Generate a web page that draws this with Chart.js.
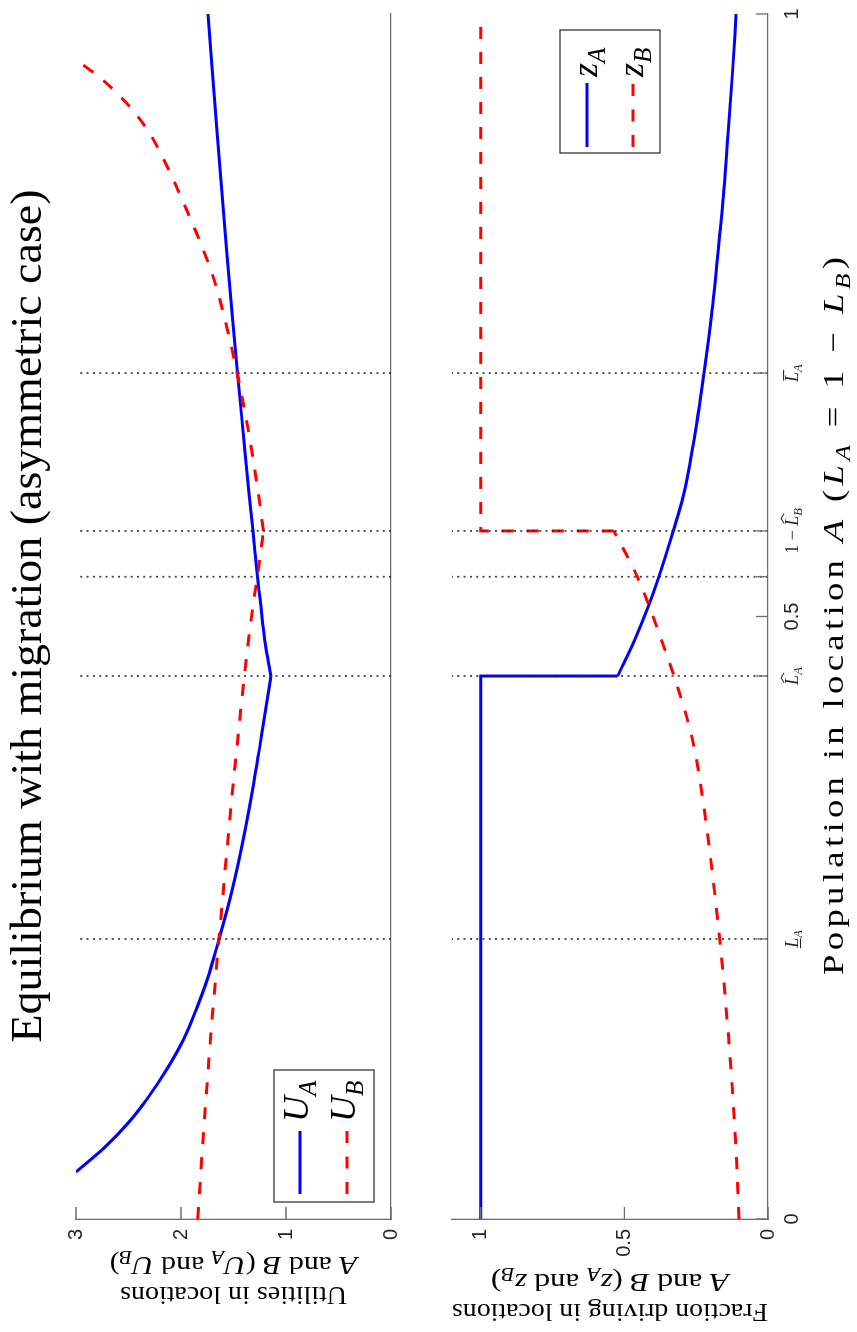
<!DOCTYPE html>
<html>
<head>
<meta charset="utf-8">
<title>Equilibrium with migration (asymmetric case)</title>
<script src="https://cdn.jsdelivr.net/npm/chart.js@4.4.1/dist/chart.umd.min.js"></script>
<style>
  html, body { margin: 0; padding: 0; background: #fff; }
  body { width: 857px; height: 1332px; overflow: hidden; position: relative; }
  /* the figure is laid out landscape and turned a quarter turn anticlockwise */
  #figure { position: absolute; left: 0; top: 0; width: 1332px; height: 857px;
            transform-origin: 0 0; transform: translateY(1332px) rotate(-90deg); }
  #figure canvas { position: absolute; left: 0; top: 0; }
</style>
</head>
<body>
<div id="figure">
  <canvas id="utilityChart" width="1332" height="857"></canvas>
  <canvas id="drivingChart" width="1332" height="857"></canvas>
</div>
<script>
// --- values -----------------------------------------------------------
// population in A where the dotted guides are drawn
const guidePop = [0.2324, 0.4506, 0.533, 0.571, 0.702];
const popTicks = [0, 0.2324, 0.4506, 0.5, 0.533, 0.571, 0.702, 1];
const popTickLabels = ['0', 'LlowA', 'LhatA', '0.5', '', 'oneMinusLhatB', 'LbarA', '1'];
const utilTicks = [0, 1, 2, 3];
const fracTicks = [0, 0.5, 1];

// utility in A, falling part and rising part
const uaFallPop = [0.039, 0.06, 0.08, 0.10, 0.125, 0.15, 0.175, 0.20, 0.2324, 0.265, 0.30, 0.35, 0.40, 0.4506];
const uaFallVal = [3.00, 2.72, 2.50, 2.32, 2.13, 1.97, 1.85, 1.745, 1.638, 1.535, 1.442, 1.33, 1.235, 1.143];
const uaRisePop = [0.4506, 0.48, 0.5137, 0.533, 0.571, 0.60, 0.65, 0.702, 0.75, 0.80, 0.90, 1.00];
const uaRiseVal = [1.143, 1.202, 1.246, 1.272, 1.315, 1.35, 1.405, 1.462, 1.512, 1.562, 1.655, 1.743];

// utility in B
const ubFallPop = [0, 0.06, 0.10, 0.15, 0.20, 0.2324, 0.265, 0.30, 0.35, 0.3975, 0.4506, 0.4837, 0.5137, 0.533, 0.55, 0.571];
const ubFallVal = [1.84, 1.795, 1.762, 1.718, 1.671, 1.638, 1.605, 1.569, 1.515, 1.46, 1.397, 1.352, 1.307, 1.272, 1.246, 1.215];
const ubRisePop = [0.571, 0.60, 0.65, 0.702, 0.744, 0.7685, 0.7876, 0.807, 0.825, 0.844, 0.8647, 0.8838, 0.9012, 0.9187, 0.9344, 0.9485, 0.962];
const ubRiseVal = [1.215, 1.26, 1.35, 1.465, 1.575, 1.648, 1.715, 1.80, 1.885, 1.98, 2.085, 2.19, 2.30, 2.445, 2.61, 2.79, 3.0];

// fraction driving in A
const zaFlatPop = [0, 0.4506, 0.4506];
const zaFlatVal = [1, 1, 0.523];
const zaFallPop = [0.4506, 0.48, 0.5095, 0.533, 0.571, 0.60, 0.65, 0.702, 0.75, 0.80, 0.85, 0.90, 0.95, 1.00];
const zaFallVal = [0.523, 0.465, 0.415, 0.38, 0.33, 0.295, 0.255, 0.223, 0.197, 0.175, 0.155, 0.139, 0.124, 0.111];

// fraction driving in B
const zbRisePop = [0, 0.05, 0.10, 0.15, 0.20, 0.2324, 0.265, 0.30, 0.35, 0.40, 0.4506, 0.48, 0.5095, 0.533, 0.55, 0.571];
const zbRiseVal = [0.101, 0.11, 0.122, 0.137, 0.155, 0.168, 0.183, 0.20, 0.228, 0.265, 0.327, 0.37, 0.415, 0.455, 0.49, 0.537];
const zbFlatPop = [0.571, 0.571, 1];
const zbFlatVal = [0.537, 1, 1];

// --- styling ------------------------------------------------------------
const BLUE = 'rgb(0, 0, 255)';
const RED = 'rgb(255, 0, 0)';
const AXIS_COLOR = '#6e6e6e';
const TICK_TEXT = '#262626';
const SANS = '"Liberation Sans", Arial, sans-serif';
const SERIF = '"Liberation Serif", "DejaVu Serif", serif';
const DASH = [12, 13];

// rich text bits (italic maths, subscripts, hats and bars)
const txt = (t, extra) => Object.assign({ t }, extra || {});
const it = (t, extra) => Object.assign({ t, it: true }, extra || {});
const sub = (t) => ({ t, it: true, sub: true });

const tickText = {
  LlowA: [it('L', { deco: 'under' }), sub('A')],
  LhatA: [it('L', { deco: 'hat' }), sub('A')],
  oneMinusLhatB: [txt('1 \u2212 '), it('L', { deco: 'hat' }), sub('B')],
  LbarA: [it('L', { deco: 'bar' }), sub('A')]
};

function segFont(seg, size) {
  const sz = seg.sub ? size * 0.7 : size;
  return (seg.it ? 'italic ' : '') + sz.toFixed(1) + 'px ' + SERIF;
}

function richWidth(ctx, segs, size) {
  let w = 0;
  segs.forEach(s => { ctx.font = segFont(s, size); w += ctx.measureText(s.t).width; });
  return w;
}

function drawDeco(ctx, kind, x, w, size) {
  const slant = size * 0.12;
  ctx.save();
  ctx.strokeStyle = ctx.fillStyle;
  ctx.lineWidth = Math.max(1, size * 0.06);
  ctx.beginPath();
  if (kind === 'hat') {
    const top = -size * 0.72;
    ctx.moveTo(x + slant, top - size * 0.05);
    ctx.lineTo(x + w / 2 + slant, top - size * 0.22);
    ctx.lineTo(x + w + slant, top - size * 0.05);
  } else if (kind === 'bar') {
    const y = -size * 0.8;
    ctx.moveTo(x + slant * 0.6, y);
    ctx.lineTo(x + w + slant, y);
  } else if (kind === 'under') {
    const y = size * 0.14;
    ctx.moveTo(x - slant * 0.2, y);
    ctx.lineTo(x + w - slant * 0.3, y);
  }
  ctx.stroke();
  ctx.restore();
}

// baseline at y; align 'center' or 'left'.
// spread widens by letter spacing, fit then stretches to the final width
function drawRich(ctx, segs, x, y, size, opts) {
  opts = opts || {};
  const w = richWidth(ctx, segs, size);
  let gap = 0;
  if (opts.spread && opts.spread > w) {
    const n = segs.reduce((k, s) => k + s.t.length, 0);
    gap = (opts.spread - w) / Math.max(1, n - 1);
  }
  const total = gap ? opts.spread : w;
  const sx = opts.fit ? opts.fit / total : 1;
  ctx.save();
  ctx.translate(x, y);
  ctx.scale(sx, 1);
  ctx.textAlign = 'left';
  ctx.textBaseline = 'alphabetic';
  let cx = opts.align === 'left' ? 0 : -total / 2;
  segs.forEach(s => {
    ctx.font = segFont(s, size);
    const dy = s.sub ? size * 0.22 : 0;
    if (gap) {
      const start = cx;
      for (const ch of s.t) {
        ctx.fillText(ch, cx, dy);
        cx += ctx.measureText(ch).width + gap;
      }
      if (s.deco) drawDeco(ctx, s.deco, start, cx - start - gap, size);
    } else {
      const sw = ctx.measureText(s.t).width;
      ctx.fillText(s.t, cx, dy);
      if (s.deco) drawDeco(ctx, s.deco, cx, sw, size);
      cx += sw;
    }
  });
  ctx.restore();
}

function drawVertical(ctx, segs, u, v, size, fit) {
  ctx.save();
  ctx.translate(u, v);
  ctx.rotate(-Math.PI / 2);
  drawRich(ctx, segs, 0, 0, size, { fit });
  ctx.restore();
}

function drawLegend(ctx, box, entries) {
  ctx.save();
  ctx.fillStyle = '#fff';
  ctx.fillRect(box.left, box.top, box.right - box.left, box.bottom - box.top);
  ctx.strokeStyle = '#262626';
  ctx.lineWidth = 1.2;
  ctx.strokeRect(box.left, box.top, box.right - box.left, box.bottom - box.top);
  entries.forEach(e => {
    ctx.beginPath();
    ctx.strokeStyle = e.color;
    ctx.lineWidth = 3;
    ctx.setLineDash(e.dash);
    ctx.moveTo(box.lineFrom, e.v);
    ctx.lineTo(box.lineTo, e.v);
    ctx.stroke();
    ctx.setLineDash([]);
    ctx.fillStyle = '#000';
    drawRich(ctx, e.label, box.textAt, e.v + e.shift, box.size, { align: 'left' });
  });
  ctx.restore();
}

// --- datasets -----------------------------------------------------------
function points(xs, ys) {
  return xs.map((x, i) => ({ x, y: ys[i] }));
}

function curve(xs, ys, color, dashed, smooth, order) {
  return {
    data: points(xs, ys),
    borderColor: color,
    borderWidth: 3,
    borderDash: dashed ? DASH : [],
    cubicInterpolationMode: smooth ? 'monotone' : 'default',
    tension: 0,
    pointRadius: 0,
    fill: false,
    order
  };
}

function guides(maxY) {
  return guidePop.map(p => ({
    data: [{ x: p, y: 0 }, { x: p, y: maxY }],
    borderColor: 'rgba(35, 35, 35, 0.85)',
    borderWidth: 1.8,
    borderDash: [2, 4.3],
    pointRadius: 0,
    fill: false,
    order: 0
  }));
}

// inward tick marks, as MATLAB draws them
function innerTicks(xTicks, yTicks) {
  return {
    id: 'innerTicks',
    afterDraw(chart) {
      const { ctx, chartArea: a, scales } = chart;
      ctx.save();
      ctx.strokeStyle = AXIS_COLOR;
      ctx.lineWidth = 1.3;
      ctx.beginPath();
      yTicks.forEach(t => {
        const v = scales.y.getPixelForValue(t);
        ctx.moveTo(a.left, v);
        ctx.lineTo(a.left + 12, v);
      });
      xTicks.forEach(t => {
        const u = scales.x.getPixelForValue(t);
        ctx.moveTo(u, a.bottom);
        ctx.lineTo(u, a.bottom - 12);
      });
      ctx.stroke();
      ctx.restore();
    }
  };
}

function baseOptions(yMax, yTicks, padTop, padBottom) {
  return {
    responsive: false,
    animation: false,
    devicePixelRatio: 1,
    events: [],
    layout: { padding: { left: 0, right: 14, top: padTop, bottom: padBottom } },
    plugins: { legend: { display: false }, tooltip: { enabled: false } },
    scales: {
      x: {
        type: 'linear',
        min: 0,
        max: 1,
        grid: { display: false, drawTicks: false },
        border: { display: true, color: AXIS_COLOR, width: 1.3 },
        ticks: { display: false },
        afterFit: s => { s.height = 0; }
      },
      y: {
        type: 'linear',
        min: 0,
        max: yMax,
        grid: { display: false, drawTicks: false },
        border: { display: true, color: AXIS_COLOR, width: 1.3 },
        afterBuildTicks: s => { s.ticks = yTicks.map(v => ({ value: v })); },
        ticks: {
          padding: 10,
          color: TICK_TEXT,
          font: { family: SANS, size: 20 },
          callback: v => String(v)
        },
        afterFit: s => { s.width = 113; }
      }
    }
  };
}

document.addEventListener('DOMContentLoaded', () => {
  drawUtilityPanel();
  drawDrivingPanel();
});

function drawUtilityPanel() {
  const canvas = document.getElementById('utilityChart');
  if (!canvas || typeof Chart === 'undefined') return;

  const labels = {
    id: 'utilityLabels',
    afterDraw(chart) {
      const ctx = chart.ctx;
      ctx.save();
      ctx.fillStyle = '#000';
      drawRich(ctx, [txt('Equilibrium with migration (asymmetric case)')], 716, 41, 44, { fit: 853 });
      const mid = (chart.chartArea.top + chart.chartArea.bottom) / 2;
      drawVertical(ctx, [txt('Utilities in locations')], 45, mid, 26, 227);
      drawVertical(ctx, [it('A'), txt(' and '), it('B'), txt(' ('), it('U'), sub('A'),
        txt(' and '), it('U'), sub('B'), txt(')')], 75, mid, 26, 248);
      drawLegend(ctx,
        { left: 130, right: 262, top: 274, bottom: 374, lineFrom: 138, lineTo: 201, textAt: 210, size: 36 },
        [
          { v: 300, color: BLUE, dash: [], shift: 8, label: [it('U'), sub('A')] },
          { v: 347, color: RED, dash: [12, 13.5], shift: 8, label: [it('U'), sub('B')] }
        ]);
      ctx.restore();
    }
  };

  new Chart(canvas.getContext('2d'), {
    type: 'line',
    data: {
      datasets: [
        ...guides(3),
        curve(ubFallPop, ubFallVal, RED, true, true, 1),
        curve(ubRisePop, ubRiseVal, RED, true, true, 1),
        curve(uaFallPop, uaFallVal, BLUE, false, true, 2),
        curve(uaRisePop, uaRiseVal, BLUE, false, true, 2)
      ]
    },
    options: baseOptions(3, utilTicks, 76, 857 - 391),
    plugins: [innerTicks([], utilTicks), labels]
  });
}

function drawDrivingPanel() {
  const canvas = document.getElementById('drivingChart');
  if (!canvas || typeof Chart === 'undefined') return;

  const labels = {
    id: 'drivingLabels',
    afterDraw(chart) {
      const { ctx, chartArea: a, scales } = chart;
      ctx.save();
      ctx.fillStyle = TICK_TEXT;
      // population ticks: numbers in sans, the named points in maths
      popTicks.forEach((p, i) => {
        const key = popTickLabels[i];
        if (!key) return;
        const u = scales.x.getPixelForValue(p);
        if (tickText[key]) {
          drawRich(ctx, tickText[key], u, 798, 18);
        } else {
          ctx.font = '20px ' + SANS;
          ctx.textAlign = 'center';
          ctx.textBaseline = 'alphabetic';
          ctx.fillText(key, u, 798);
        }
      });
      ctx.fillStyle = '#000';
      const xTitle = [txt('Population in location '), it('A'), txt(' ('), it('L'), sub('A'),
        txt(' = 1 \u2212 '), it('L'), sub('B'), txt(')')];
      const natural = richWidth(ctx, xTitle, 30);
      drawRich(ctx, xTitle, 716, 843, 30, { spread: (natural + 718) / 2, fit: 718 });
      const mid = (a.top + a.bottom) / 2;
      drawVertical(ctx, [txt('Fraction driving in locations')], 28, mid, 26, 316);
      drawVertical(ctx, [it('A'), txt(' and '), it('B'), txt(' ('), it('z'), sub('A'),
        txt(' and '), it('z'), sub('B'), txt(')')], 58, mid, 26, 238);
      drawLegend(ctx,
        { left: 1179, right: 1302, top: 560, bottom: 660, lineFrom: 1185, lineTo: 1249, textAt: 1255, size: 36 },
        [
          { v: 587, color: BLUE, dash: [], shift: 10, label: [it('z'), sub('A')] },
          { v: 633, color: RED, dash: [12, 13.5], shift: 10, label: [it('z'), sub('B')] }
        ]);
      ctx.restore();
    }
  };

  new Chart(canvas.getContext('2d'), {
    type: 'line',
    data: {
      datasets: [
        ...guides(1.1),
        curve(zbRisePop, zbRiseVal, RED, true, true, 1),
        curve(zbFlatPop, zbFlatVal, RED, true, false, 1),
        curve(zaFlatPop, zaFlatVal, BLUE, false, false, 2),
        curve(zaFallPop, zaFallVal, BLUE, false, true, 2)
      ]
    },
    options: baseOptions(1.1, fracTicks, 452, 857 - 768),
    plugins: [innerTicks(popTicks, fracTicks), labels]
  });
}
</script>
</body>
</html>
